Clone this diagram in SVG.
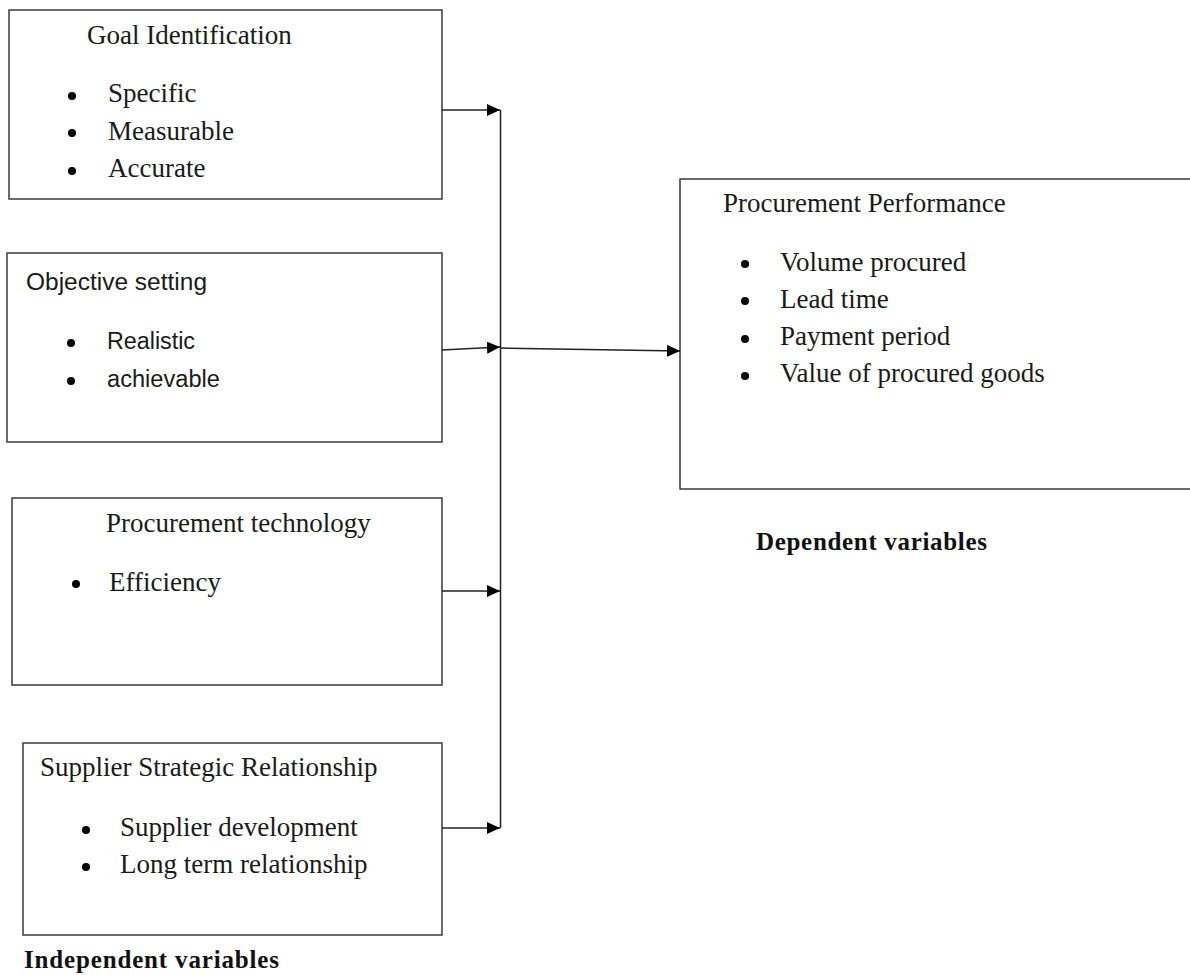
<svg xmlns="http://www.w3.org/2000/svg" width="1190" height="975" viewBox="0 0 1190 975">
  <style>
    .box { fill: #ffffff; stroke: #3a3a3a; stroke-width: 1.5; }
    .serif { font-family: "Liberation Serif", "Times New Roman", serif; font-size: 27px; fill: #1a1a1a; }
    .sans { font-family: "Liberation Sans", Arial, sans-serif; font-size: 23px; fill: #1a1a1a; }
    .bold { font-family: "Liberation Serif", "Times New Roman", serif; font-size: 25px; font-weight: bold; fill: #111111; }
    .dot { fill: #000000; }
    .wire { fill: none; stroke: #222222; stroke-width: 1.5; }
  </style>
  <defs>
    <marker id="arrow" viewBox="0 0 13 12" refX="13" refY="6" markerWidth="13" markerHeight="12" markerUnits="userSpaceOnUse" orient="auto">
      <path d="M0,0 L13,6 L0,12 Z" fill="#000000"/>
    </marker>
  </defs>
  <rect width="1190" height="975" fill="#ffffff"/>

  <!-- independent variable boxes -->
  <g id="goal-identification">
    <rect class="box" x="9" y="10" width="433" height="189"/>
    <text class="serif" x="87" y="44">Goal Identification</text>
    <circle class="dot" cx="72" cy="96" r="4"/>
    <text class="serif" x="108" y="102">Specific</text>
    <circle class="dot" cx="72" cy="133" r="4"/>
    <text class="serif" x="108" y="140">Measurable</text>
    <circle class="dot" cx="72" cy="171" r="4"/>
    <text class="serif" x="108" y="177">Accurate</text>
  </g>

  <g id="objective-setting">
    <rect class="box" x="7" y="253" width="435" height="189"/>
    <text class="sans" x="26" y="290" textLength="181" lengthAdjust="spacingAndGlyphs">Objective setting</text>
    <circle class="dot" cx="71" cy="343" r="4"/>
    <text class="sans" x="107" y="349" textLength="88" lengthAdjust="spacingAndGlyphs">Realistic</text>
    <circle class="dot" cx="71" cy="381" r="4"/>
    <text class="sans" x="107" y="387" textLength="113" lengthAdjust="spacingAndGlyphs">achievable</text>
  </g>

  <g id="procurement-technology">
    <rect class="box" x="12" y="498" width="430" height="187"/>
    <text class="serif" x="106" y="532">Procurement technology</text>
    <circle class="dot" cx="76" cy="584" r="4"/>
    <text class="serif" x="109" y="591">Efficiency</text>
  </g>

  <g id="supplier-relationship">
    <rect class="box" x="23" y="743" width="419" height="192"/>
    <text class="serif" x="40" y="776">Supplier Strategic Relationship</text>
    <circle class="dot" cx="86" cy="830" r="4"/>
    <text class="serif" x="120" y="836">Supplier development</text>
    <circle class="dot" cx="86" cy="867" r="4"/>
    <text class="serif" x="120" y="873">Long term relationship</text>
  </g>

  <!-- dependent variable box -->
  <g id="procurement-performance">
    <rect class="box" x="680" y="179" width="520" height="310"/>
    <text class="serif" x="723" y="212">Procurement Performance</text>
    <circle class="dot" cx="745" cy="264" r="4"/>
    <text class="serif" x="780" y="271">Volume procured</text>
    <circle class="dot" cx="745" cy="301" r="4"/>
    <text class="serif" x="780" y="308">Lead time</text>
    <circle class="dot" cx="745" cy="339" r="4"/>
    <text class="serif" x="780" y="345">Payment period</text>
    <circle class="dot" cx="745" cy="376" r="4"/>
    <text class="serif" x="780" y="382">Value of procured goods</text>
  </g>

  <!-- captions -->
  <g id="captions">
    <text class="bold" x="756" y="550" textLength="231" lengthAdjust="spacing">Dependent variables</text>
    <text class="bold" x="24" y="968" textLength="255" lengthAdjust="spacing">Independent variables</text>
  </g>

  <!-- connectors -->
  <g id="connectors">
    <line class="wire" x1="500.5" y1="110" x2="500.5" y2="828"/>
    <line class="wire" x1="442" y1="110" x2="500" y2="110" marker-end="url(#arrow)"/>
    <line class="wire" x1="442" y1="350" x2="500" y2="347" marker-end="url(#arrow)"/>
    <line class="wire" x1="442" y1="591" x2="500" y2="591" marker-end="url(#arrow)"/>
    <line class="wire" x1="442" y1="828" x2="500" y2="828" marker-end="url(#arrow)"/>
    <line class="wire" x1="500" y1="348" x2="680" y2="351" marker-end="url(#arrow)"/>
  </g>
</svg>
